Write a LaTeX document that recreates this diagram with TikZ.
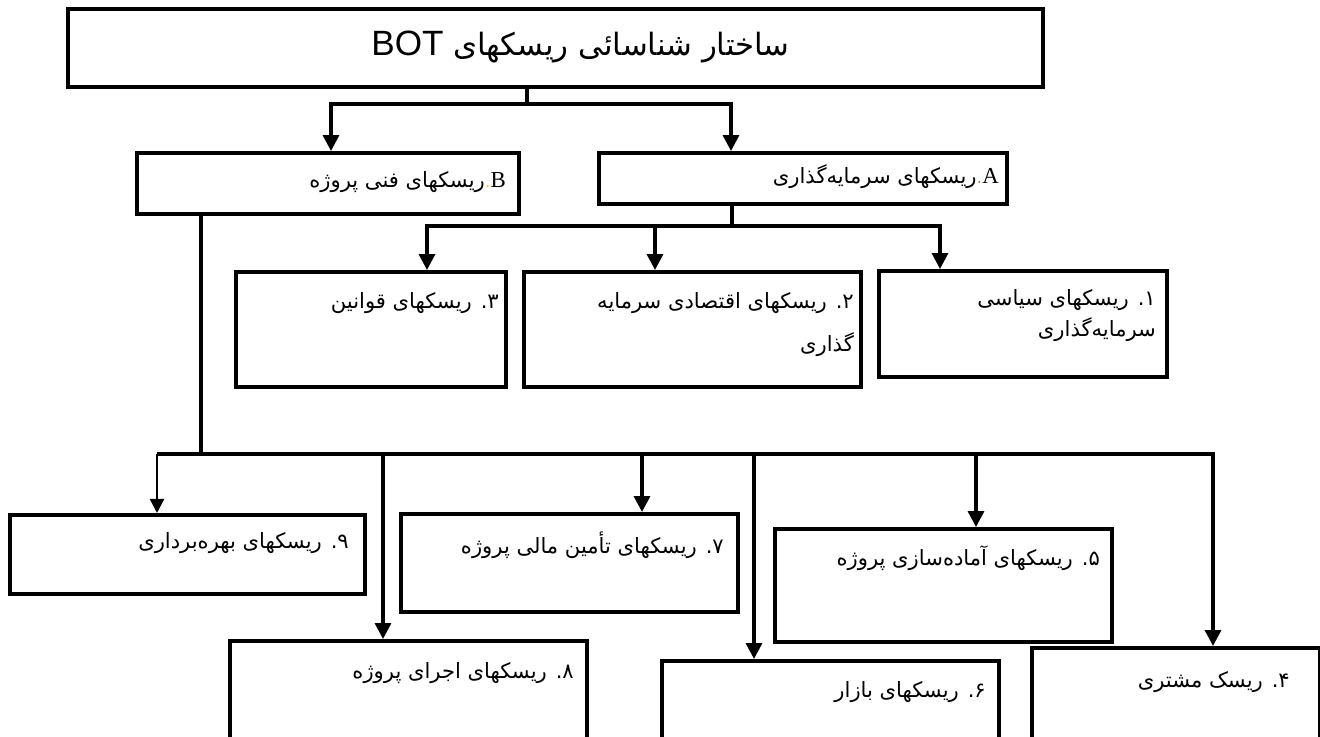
\documentclass[tikz,border=0pt]{standalone}
\usepackage{fontspec}
\usetikzlibrary{arrows.meta,calc}
\TeXXeTstate=1
\newfontfamily\farsi[Script=Arabic]{DejaVu Sans}
\newfontfamily\latinsans{Liberation Sans}
\newfontfamily\latinserif{Liberation Serif}
\newcommand{\fa}[1]{{\farsi\beginR #1\endR}}
\definecolor{dotred}{RGB}{232,84,40}
\definecolor{dotyellow}{RGB}{240,204,0}

\begin{document}
\begin{tikzpicture}[x=0.02cm,y=-0.02cm,
	box/.style={draw=black,line width=2.4pt,anchor=north west,inner sep=0pt},
	txt/.style={anchor=east,inner sep=0pt,font=\fontsize{12}{14}\selectfont},
	link/.style={line width=1.9pt},
	arr/.style={line width=1.9pt,-{Triangle[width=9pt,length=9pt]}},
	thinarr/.style={line width=1.2pt,-{Triangle[width=8pt,length=8pt]}}]
		\useasboundingbox (0,0) rectangle (1320,737);
		\clip (0,0) rectangle (1320,737);
		\node [box,minimum width=19.5cm,minimum height=1.56cm] (top) at (66,7) {};
		\node [box,minimum width=7.64cm,minimum height=1.22cm] (B) at (135,151) {};
		\node [box,minimum width=8.16cm,minimum height=1.02cm] (A) at (597,151) {};
		\node [box,minimum width=5.4cm,minimum height=2.3cm] (r3) at (234,270) {};
		\node [box,minimum width=6.74cm,minimum height=2.3cm] (r2) at (522,270) {};
		\node [box,minimum width=5.76cm,minimum height=2.12cm] (r1) at (877,269) {};
		\node [box,minimum width=7.1cm,minimum height=1.58cm] (r9) at (8,513) {};
		\node [box,minimum width=6.74cm,minimum height=1.96cm] (r7) at (399,512) {};
		\node [box,minimum width=6.74cm,minimum height=2.26cm] (r5) at (773,527) {};
		\node [box,minimum width=7.14cm,minimum height=2.6cm] (r8) at (228,639) {};
		\node [box,minimum width=6.74cm,minimum height=2.6cm] (r6) at (660,659) {};
		\node [box,minimum width=5.76cm,minimum height=2.6cm] (r4) at (1030,646) {};
		\node [txt,font=\fontsize{17.5}{22}\selectfont] (tTop) at ($(top.north west)+(724,40)$) {\fa{ساختار شناسائی ریسکهای {\fontsize{20}{24}\selectfont\latinsans BOT}}};
		\node [txt] (tB) at ($(B.north east)+(-15,31)$) {\fa{ریسکهای فنی پروژه}{\color{dotyellow}.}{\fontsize{13}{15}\selectfont\latinserif B}};
		\node [txt] (tA) at ($(A.north east)+(-10,26)$) {\fa{ریسکهای سرمایه‌گذاری}{\color{dotred}.}{\fontsize{13}{15}\selectfont\latinserif A}};
		\node [txt] (t3) at ($(r3.north east)+(-9,33)$) {\fa{۳. ریسکهای قوانین}};
		\node [txt] (t2) at ($(r2.north east)+(-9,33)$) {\fa{۲. ریسکهای اقتصادی سرمایه}};
		\node [txt] (t2b) at ($(r2.north east)+(-9,75)$) {\fa{گذاری}};
		\node [txt] (t1) at ($(r1.north east)+(-13,31)$) {\fa{۱. ریسکهای سیاسی}};
		\node [txt] (t1b) at ($(r1.north east)+(-13,61)$) {\fa{سرمایه‌گذاری}};
		\node [txt] (t9) at ($(r9.north east)+(-18,30)$) {\fa{۹. ریسکهای بهره‌برداری}};
		\node [txt] (t7) at ($(r7.north east)+(-16,33)$) {\fa{۷. ریسکهای تأمین مالی پروژه}};
		\node [txt] (t5) at ($(r5.north east)+(-14,31)$) {\fa{۵. ریسکهای آماده‌سازی پروژه}};
		\node [txt] (t8) at ($(r8.north east)+(-15,34)$) {\fa{۸. ریسکهای اجرای پروژه}};
		\node [txt] (t6) at ($(r6.north east)+(-15,33)$) {\fa{۶. ریسکهای بازار}};
		\node [txt] (t4) at ($(r4.north east)+(-32,36)$) {\fa{۴. ریسک مشتری}};
		\coordinate (j0) at (527,104);
		\coordinate (j1) at (732,226);
		\coordinate (j2) at (201,454);
		\coordinate (d9) at ($(r9.north west)+(149,0)$);
		\draw [link] (j0 |- top.south) -- (j0);
		\draw [arr] (j0) -| ($(B.north west)+(196,0)$);
		\draw [arr] (j0) -| ($(A.north west)+(134,0)$);
		\draw [link] (j1 |- A.south) -- (j1);
		\draw [arr] (j1) -| ($(r3.north west)+(193,0)$);
		\draw [arr] (j1) -| ($(r2.north west)+(133,0)$);
		\draw [arr] (j1) -| ($(r1.north west)+(63,0)$);
		\draw [link] (j2 |- B.south) -- (j2);
		\draw [link] (j2) -- (j2 -| d9);
		\draw [thinarr] (j2 -| d9) -- (d9);
		\draw [arr] (j2) -| ($(r8.north west)+(155,0)$);
		\draw [arr] (j2) -| ($(r7.north west)+(243,0)$);
		\draw [arr] (j2) -| ($(r6.north west)+(94,0)$);
		\draw [arr] (j2) -| ($(r5.north west)+(203,0)$);
		\draw [arr] (j2) -| ($(r4.north west)+(183,0)$);
	\end{tikzpicture}
\end{document}
